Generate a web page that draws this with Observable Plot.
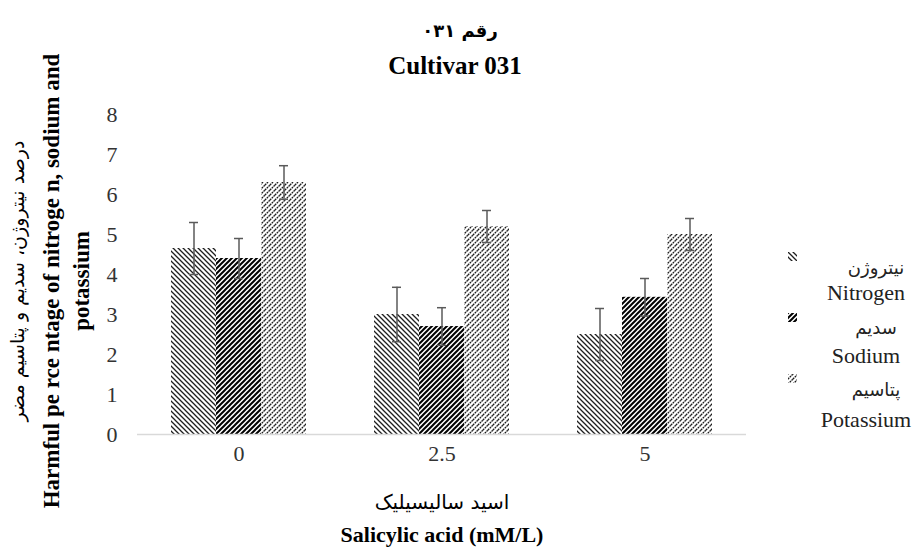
<!DOCTYPE html>
<html>
<head>
<meta charset="utf-8">
<script src="https://cdn.jsdelivr.net/npm/d3@7"></script>
<script src="https://cdn.jsdelivr.net/npm/@observablehq/plot@0.6"></script>
<style>
  body { margin: 0; background: #fff; }
  #wrap { position: relative; width: 920px; height: 547px; overflow: hidden; font-family: "Liberation Serif", "Times New Roman", serif; color: #000; }
  #chart { position: absolute; left: 0; top: 0; }
  .t { position: absolute; white-space: nowrap; transform: translate(-50%, -50%); text-align: center; }
  .ar { font-family: "DejaVu Sans", sans-serif; }
  .rot { transform: translate(-50%, -50%) rotate(-90deg); }
</style>
</head>
<body>
<svg width="0" height="0" style="position:absolute">
  <defs>
    <pattern id="pN" patternUnits="userSpaceOnUse" width="5" height="5">
      <path d="M0,0L5,5M-1,4L1,6M4,-1L6,1" stroke="#1e1e1e" stroke-width="1.3" fill="none"/>
    </pattern>
    <pattern id="pNa" patternUnits="userSpaceOnUse" width="5" height="5">
      <path d="M0,5L5,0M-1,1L1,-1M4,6L6,4" stroke="#000" stroke-width="2" fill="none"/>
    </pattern>
    <pattern id="pK" patternUnits="userSpaceOnUse" width="5" height="5">
      <path d="M0,5L5,0M-1,1L1,-1M4,6L6,4" stroke="#1e1e1e" stroke-width="1.3" stroke-dasharray="1.8 0.7" fill="none"/>
    </pattern>
  </defs>
</svg>
<div id="wrap">
  <div id="chart"></div>
  <div class="t ar" style="left:460px; top:30px; font-size:18px; font-weight:bold;">رقم ۰۳۱</div>
  <div class="t" style="left:455px; top:66px; font-size:25px; font-weight:bold;">Cultivar 031</div>
  <div class="t ar rot" style="left:17px; top:281px; font-size:19px;">درصد نیتروژن، سدیم و پتاسیم مضر</div>
  <div class="t rot" style="left:67px; top:281px; font-size:23px; font-weight:bold; line-height:30px;">Harmful pe rce ntage of nitroge n, sodium and<br>potassium</div>
  <div class="t ar" style="left:442px; top:502px; font-size:20px;">اسید سالیسیلیک</div>
  <div class="t" style="left:442px; top:535px; font-size:22px; font-weight:bold;">Salicylic acid (mM/L)</div>
  <div id="legend"></div>
</div>
<script>
const doses = ["0", "2.5", "5"];
const seriesNames = ["Nitrogen", "Sodium", "Potassium"];
const seriesArabic = ["نیتروژن", "سدیم", "پتاسیم"];
const nitrogen = [4.65, 3.0, 2.5];
const nitrogenErr = [0.65, 0.68, 0.65];
const sodium = [4.4, 2.7, 3.43];
const sodiumErr = [0.5, 0.47, 0.47];
const potassium = [6.3, 5.2, 5.0];
const potassiumErr = [0.42, 0.4, 0.4];
const yTicks = [0, 1, 2, 3, 4, 5, 6, 7, 8];
const patternIds = ["url(#pN)", "url(#pNa)", "url(#pK)"];

const valuesBySeries = [nitrogen, sodium, potassium];
const errBySeries = [nitrogenErr, sodiumErr, potassiumErr];
const rows = [];
doses.forEach((d, i) => {
  seriesNames.forEach((s, j) => {
    rows.push({dose: d, series: s, value: valuesBySeries[j][i], err: errBySeries[j][i]});
  });
});

const chart = Plot.plot({
  width: 920,
  height: 547,
  marginLeft: 137,
  marginRight: 174,
  marginTop: 114,
  marginBottom: 113,
  style: {fontFamily: "'Liberation Serif', 'Times New Roman', serif", fontSize: "22px", color: "#333", background: "transparent"},
  fx: {domain: doses, padding: 0, label: null, axis: "bottom", tickSize: 0, tickPadding: 11},
  x: {domain: seriesNames, paddingInner: 0, paddingOuter: 0.72, axis: null},
  y: {domain: [0, 8], ticks: yTicks, tickSize: 0, tickPadding: 20, label: null, tickFormat: d3.format("d")},
  color: {domain: seriesNames, range: patternIds, legend: false},
  marks: [
    Plot.barY(rows, {fx: "dose", x: "series", y: "value", fill: "series"}),
    Plot.ruleY([0], {stroke: "#d9d9d9", strokeWidth: 1.6}),
    Plot.ruleX(rows, {fx: "dose", x: "series", y1: d => d.value - d.err, y2: d => d.value + d.err, stroke: "#5a5a5a", strokeWidth: 1.5}),
    Plot.tickY(rows, {fx: "dose", x: "series", y: d => d.value + d.err, stroke: "#5a5a5a", strokeWidth: 1.5, insetLeft: 18, insetRight: 18}),
    Plot.tickY(rows, {fx: "dose", x: "series", y: d => d.value - d.err, stroke: "#5a5a5a", strokeWidth: 1.5, insetLeft: 18, insetRight: 18})
  ]
});
document.getElementById("chart").appendChild(chart);

// legend
const legend = document.getElementById("legend");
const legendTops = [252, 313, 374];
const enTops = [293, 356, 420];
const arTops = [267, 327, 389];
seriesNames.forEach((s, j) => {
  const sw = document.createElementNS("http://www.w3.org/2000/svg", "svg");
  sw.setAttribute("width", 9); sw.setAttribute("height", 9);
  sw.style.position = "absolute"; sw.style.left = "788px"; sw.style.top = legendTops[j] + "px";
  const r = document.createElementNS("http://www.w3.org/2000/svg", "rect");
  r.setAttribute("width", 9); r.setAttribute("height", 9); r.setAttribute("fill", patternIds[j]);
  sw.appendChild(r);
  legend.appendChild(sw);
  const ar = document.createElement("div");
  ar.className = "t ar"; ar.style.left = "876px"; ar.style.top = arTops[j] + "px"; ar.style.fontSize = "18px"; ar.style.color = "#222";
  ar.textContent = seriesArabic[j];
  legend.appendChild(ar);
  const en = document.createElement("div");
  en.className = "t"; en.style.left = "866px"; en.style.top = enTops[j] + "px"; en.style.fontSize = "22px"; en.style.color = "#222";
  en.textContent = s;
  legend.appendChild(en);
});
</script>
</body>
</html>
